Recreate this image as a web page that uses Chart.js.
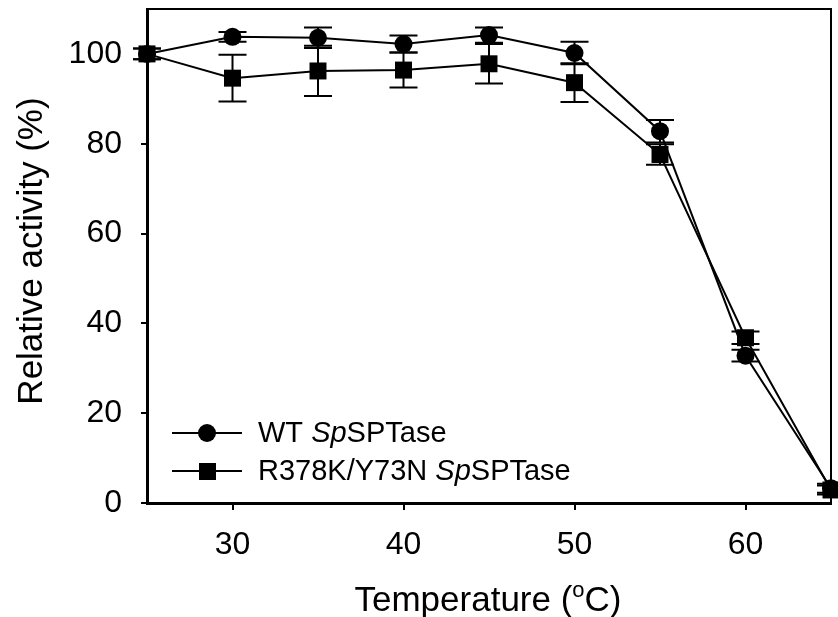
<!DOCTYPE html>
<html>
<head>
<meta charset="utf-8">
<script src="https://cdn.jsdelivr.net/npm/chart.js@4"></script>
<style>
  body { margin: 0; background: #fff; }
  #chart { display: block; }
</style>
</head>
<body>
<canvas id="chart" width="838" height="617"></canvas>
<script>
// temperatures (C)
const temps = [25, 30, 35, 40, 45, 50, 55, 60, 65];
// WT SpSPTase
const wtActivity = [100, 103.8, 103.6, 102.2, 104.2, 100.2, 82.8, 32.8, 3.3];
const wtError = [1.2, 1.1, 2.3, 1.9, 1.7, 2.5, 2.5, 1.3, 1.0];
// R378K/Y73N SpSPTase
const mutActivity = [100, 94.6, 96.2, 96.4, 97.8, 93.6, 77.6, 36.8, 2.9];
const mutError = [1.2, 5.2, 5.6, 3.9, 4.4, 4.3, 2.3, 1.4, 1.0];

const xTicks = [30, 40, 50, 60];
const yTicks = [0, 20, 40, 60, 80, 100];

const FAM = 'Arial, "Liberation Sans", sans-serif';
const tickFont = { family: FAM, size: 32 };

function toPoints(vals, errs) {
  return temps.map((t, i) => ({ x: t, y: vals[i], err: errs[i] }));
}

function noPad(s) {
  s.paddingTop = 0; s.paddingBottom = 0;
  s.paddingLeft = 0; s.paddingRight = 0;
}

// error bars drawn under the markers
const errorBars = {
  id: 'errorBars',
  beforeDatasetsDraw(chart) {
    const ctx = chart.ctx;
    const xs = chart.scales.x, ys = chart.scales.y;
    ctx.save();
    ctx.strokeStyle = '#000';
    ctx.lineWidth = 2;
    chart.data.datasets.forEach(ds => {
      ds.data.forEach(p => {
        const px = xs.getPixelForValue(p.x);
        const top = ys.getPixelForValue(p.y + p.err);
        const bot = ys.getPixelForValue(p.y - p.err);
        ctx.beginPath();
        ctx.moveTo(px, top); ctx.lineTo(px, bot);
        ctx.moveTo(px - 14, top); ctx.lineTo(px + 14, top);
        ctx.moveTo(px - 14, bot); ctx.lineTo(px + 14, bot);
        ctx.stroke();
      });
    });
    ctx.restore();
  }
};

// frame, axis titles and the legend inside the plot
const extras = {
  id: 'extras',
  afterDraw(chart) {
    const ctx = chart.ctx;
    const a = chart.chartArea;
    ctx.save();
    ctx.strokeStyle = '#000';
    ctx.lineWidth = 2;
    ctx.strokeRect(a.left, a.top, a.right - a.left, a.bottom - a.top);

    ctx.fillStyle = '#000';

    // y title
    ctx.save();
    ctx.translate(42, 251);
    ctx.rotate(-Math.PI / 2);
    ctx.textAlign = 'center';
    ctx.textBaseline = 'alphabetic';
    ctx.font = '35px ' + FAM;
    ctx.fillText('Relative activity (%)', 0, 0);
    ctx.restore();

    // x title with superscript o
    const p1 = 'Temperature (', p3 = 'C)';
    ctx.textBaseline = 'alphabetic';
    ctx.textAlign = 'left';
    ctx.font = '35px ' + FAM;
    const w1 = ctx.measureText(p1).width, w3 = ctx.measureText(p3).width;
    ctx.font = '22px ' + FAM;
    const w2 = ctx.measureText('o').width;
    let x = 488 - (w1 + w2 + w3) / 2;
    const y = 611;
    ctx.font = '35px ' + FAM;
    ctx.fillText(p1, x, y); x += w1;
    ctx.font = '22px ' + FAM;
    ctx.fillText('o', x, y - 14); x += w2;
    ctx.font = '35px ' + FAM;
    ctx.fillText(p3, x, y);

    // legend
    ctx.textBaseline = 'middle';
    const rows = [
      { pre: 'WT ', shape: 'circle', y: 433 },
      { pre: 'R378K/Y73N ', shape: 'rect', y: 471 }
    ];
    rows.forEach(r => {
      ctx.beginPath();
      ctx.moveTo(172, r.y); ctx.lineTo(242, r.y);
      ctx.lineWidth = 2;
      ctx.stroke();
      if (r.shape === 'circle') {
        ctx.beginPath();
        ctx.arc(207, r.y, 9, 0, Math.PI * 2);
        ctx.fill();
      } else {
        ctx.fillRect(199, r.y - 8, 17, 17);
      }
      let tx = 258;
      ctx.font = '29px ' + FAM;
      ctx.fillText(r.pre, tx, r.y + 1); tx += ctx.measureText(r.pre).width;
      ctx.font = 'italic 29px ' + FAM;
      ctx.fillText('Sp', tx, r.y + 1); tx += ctx.measureText('Sp').width;
      ctx.font = '29px ' + FAM;
      ctx.fillText('SPTase', tx, r.y + 1);
    });
    ctx.restore();
  }
};

new Chart(document.getElementById('chart'), {
  type: 'scatter',
  data: {
    datasets: [
      {
        label: 'WT SpSPTase',
        data: toPoints(wtActivity, wtError),
        showLine: true,
        borderColor: '#000',
        backgroundColor: '#000',
        borderWidth: 2,
        pointStyle: 'circle',
        pointRadius: 9,
        pointBorderWidth: 0
      },
      {
        label: 'R378K/Y73N SpSPTase',
        data: toPoints(mutActivity, mutError),
        showLine: true,
        borderColor: '#000',
        backgroundColor: '#000',
        borderWidth: 2,
        pointStyle: 'rect',
        pointRadius: 12,
        pointBorderWidth: 0
      }
    ]
  },
  options: {
    responsive: false,
    animation: false,
    clip: false,
    layout: { autoPadding: false, padding: { left: 0, top: 9, right: 7, bottom: 0 } },
    plugins: {
      legend: { display: false },
      tooltip: { enabled: false }
    },
    scales: {
      x: {
        type: 'linear',
        min: 25,
        max: 65,
        afterFit(s) { s.height = 114; noPad(s); },
        afterBuildTicks(s) { s.ticks = xTicks.map(v => ({ value: v })); },
        grid: { drawOnChartArea: false, tickLength: 7, color: '#000', lineWidth: 2 },
        border: { color: '#000', width: 3 },
        ticks: { color: '#000', font: tickFont, padding: 16, maxRotation: 0 }
      },
      y: {
        min: 0,
        max: 110,
        afterFit(s) { s.width = 147; noPad(s); },
        afterBuildTicks(s) { s.ticks = yTicks.map(v => ({ value: v })); },
        grid: { drawOnChartArea: false, tickLength: 6, color: '#000', lineWidth: 2 },
        border: { color: '#000', width: 3 },
        ticks: { color: '#000', font: tickFont, padding: 19 }
      }
    }
  },
  plugins: [errorBars, extras]
});
</script>
</body>
</html>
